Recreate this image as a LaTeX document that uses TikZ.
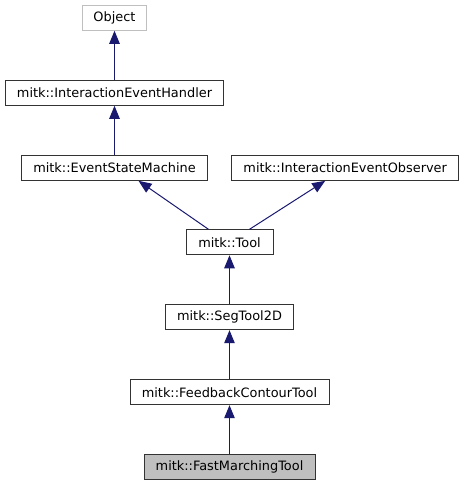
\documentclass[tikz,border=0pt]{standalone}
\usepackage{fontspec}
\setmainfont{DejaVu Sans}
\usetikzlibrary{arrows.meta}
\definecolor{navy}{HTML}{191970}
\begin{document}
\begin{tikzpicture}[x=1pt,y=-1pt,
  cls/.style={draw=black!80,line width=1pt,minimum height=25pt,inner sep=0pt,font=\fontsize{12.9}{14}\selectfont,text=black},
  inh/.style={draw=navy,line width=1pt,-{Triangle[length=13pt,width=10.5pt]},color=navy}]
\useasboundingbox (0,0) rectangle (464,485);
\node[cls,draw=black!25,minimum width=64pt] (obj) at (114.5,17.8) {Object};
\node[cls,minimum width=218pt] (ieh) at (114.5,92.8) {mitk::InteractionEventHandler};
\node[cls,minimum width=185.6pt] (esm) at (114.5,167.8) {mitk::EventStateMachine};
\node[cls,minimum width=227pt] (obs) at (345.2,167.8) {mitk::InteractionEventObserver};
\node[cls,minimum width=87pt] (tool) at (229.5,242.3) {mitk::Tool};
\node[cls,minimum width=128.3pt] (seg) at (229.5,317.2) {mitk::SegTool2D};
\node[cls,minimum width=199pt] (fct) at (229.5,392.2) {mitk::FeedbackContourTool};
\node[cls,fill=black!25,minimum width=171pt] (fmt) at (229.5,466.8) {mitk::FastMarchingTool};
\draw[inh] (ieh) -- (obj);
\draw[inh] (esm) -- (ieh);
\draw[inh] ([xshift=-21pt]tool.north) -- ([xshift=24pt]esm.south);
\draw[inh] ([xshift=20pt]tool.north) -- ([xshift=-20pt]obs.south);
\draw[inh] (seg) -- (tool);
\draw[inh] (fct) -- (seg);
\draw[inh] (fmt) -- (fct);
\end{tikzpicture}
\end{document}
